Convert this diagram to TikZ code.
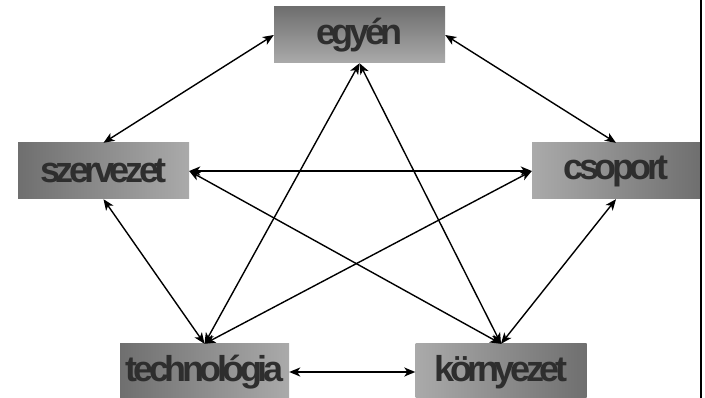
\documentclass[tikz,border=0pt]{standalone}
\usepackage{fontspec}
\newfontfamily\lab[LetterSpace=-12.5]{Liberation Sans}
\usetikzlibrary{arrows.meta,shadings}
\definecolor{txt}{HTML}{2E2E2E}
\definecolor{dk}{HTML}{6F6F6F}
\definecolor{lt}{HTML}{AAAAAA}
\tikzset{
  box/.style={minimum width=171pt, minimum height=56pt, inner sep=0pt,
    font=\lab\bfseries\fontsize{36}{36}\selectfont, text=txt},
  link/.style={line width=1.4pt, {Stealth[length=11pt,width=9pt,inset=3pt]}-{Stealth[length=11pt,width=9pt,inset=3pt]}},
}
\begin{document}
\begin{tikzpicture}[x=1pt,y=-1pt]
\useasboundingbox (0,0) rectangle (705,398);
% boxes
\node[box, top color=dk, bottom color=lt] (egyen) at (359.5,35) {egyén};
\node[box, left color=dk, right color=lt] (szerv) at (103.5,171) {szervezet};
\node[box, minimum width=168pt, left color=lt, right color=dk] (csop) at (616,171) {csoport};
\node[box, minimum width=169pt, left color=dk, right color=lt] (tech) at (204.5,372) {technológia};
\node[box, left color=lt, right color=dk] (korny) at (501,372) {környezet};
% outer ring
\draw[link] (szerv.north) -- (egyen.west);
\draw[link] (egyen.east) -- (csop.north);
\draw[link] (szerv.south) -- (tech.north);
\draw[link] (csop.south) -- (korny.north);
\draw[link] (tech.east) -- (korny.west);
% inner star
\draw[link] (szerv.east) -- (csop.west);
\draw[link] (szerv.east) -- (korny.north);
\draw[link] (csop.west) -- (tech.north);
\draw[link] (egyen.south) -- (tech.north);
\draw[link] (egyen.south) -- (korny.north);
% right border rule
\draw[line width=2pt] (701,0) -- (701,398);
\end{tikzpicture}
\end{document}
